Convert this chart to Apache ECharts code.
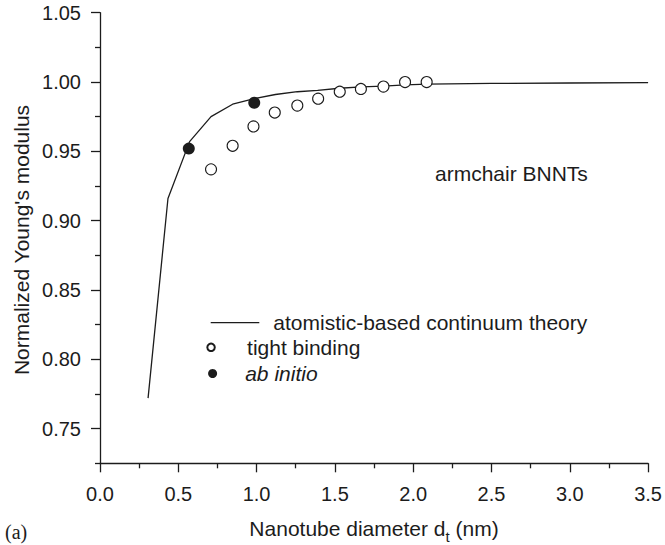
<!DOCTYPE html>
<html>
<head>
<meta charset="utf-8">
<script src="https://cdn.jsdelivr.net/npm/echarts@6/dist/echarts.min.js"></script>
<style>html,body{margin:0;padding:0;background:#fff}#c{width:665px;height:545px}</style>
</head>
<body>
<div id="c"></div>
<script>
// continuum theory curve
var theoryX = [0.307, 0.434, 0.572, 0.709, 0.847, 0.985, 1.12, 1.26, 1.39, 1.53, 1.67, 1.81, 1.95, 2.09, 2.5, 3.0, 3.5];
var theoryY = [0.772, 0.916, 0.957, 0.975, 0.984, 0.988, 0.991, 0.993, 0.994, 0.9955, 0.9965, 0.997, 0.998, 0.9985, 0.999, 0.9993, 0.9995];
// tight binding
var tbX = [0.709, 0.847, 0.980, 1.116, 1.260, 1.393, 1.531, 1.666, 1.810, 1.948, 2.086];
var tbY = [0.937, 0.954, 0.968, 0.978, 0.983, 0.988, 0.993, 0.995, 0.9967, 1.000, 1.000];
// ab initio
var abX = [0.567, 0.985];
var abY = [0.952, 0.985];
// ticks
var yMajorTicks = [0.75, 0.80, 0.85, 0.90, 0.95, 1.00, 1.05];
var yMinorTicks = [0.725, 0.775, 0.825, 0.875, 0.925, 0.975, 1.025];
var seriesNames = ['atomistic-based continuum theory', 'tight binding', 'ab initio'];

function pairs(xs, ys) { return xs.map(function (x, i) { return [x, ys[i]]; }); }

var INK = '#1c1c1c';
var FONT = '"Liberation Sans", Arial, sans-serif';

var chart = echarts.init(document.getElementById('c'), null, { renderer: 'svg' });
chart.setOption({
  animation: false,
  backgroundColor: '#fff',
  grid: { left: 100, right: 14, top: 12.7, bottom: 81.7 },
  xAxis: {
    type: 'value', min: 0, max: 3.5, interval: 0.5,
    axisLine: { show: true, lineStyle: { color: INK, width: 1.3 } },
    axisTick: { show: true, length: 9, lineStyle: { color: INK, width: 1.3 } },
    minorTick: { show: true, splitNumber: 2, length: 5, lineStyle: { color: INK, width: 1.3 } },
    splitLine: { show: false },
    axisLabel: { margin: 21, fontSize: 20, color: INK, fontFamily: FONT, formatter: function (v) { return v.toFixed(1); } }
  },
  yAxis: [{
    type: 'value', min: 0.725, max: 1.05, interval: 0.025,
    axisLine: { show: true, lineStyle: { color: INK, width: 1.3 } },
    axisTick: { show: true, length: 9, customValues: yMajorTicks, lineStyle: { color: INK, width: 1.3 } },
    splitLine: { show: false },
    axisLabel: { margin: 19, fontSize: 20, color: INK, fontFamily: FONT, customValues: yMajorTicks, formatter: function (v) { return v.toFixed(2); } }
  }, {
    type: 'value', min: 0.725, max: 1.05, interval: 0.025, position: 'left',
    axisLine: { show: false },
    axisTick: { show: true, length: 5, customValues: yMinorTicks, lineStyle: { color: INK, width: 1.3 } },
    splitLine: { show: false },
    axisLabel: { show: false }
  }],
  legend: [{
    data: [{ name: seriesNames[0], icon: 'rect' }],
    left: 210.7, top: 311.7, padding: 0, selectedMode: false,
    itemWidth: 48.6, itemHeight: 1.3, itemStyle: { borderWidth: 0 },
    textStyle: { fontSize: 21, color: INK, fontFamily: FONT, lineHeight: 22, padding: [0, 0, 0, 9] }
  }, {
    data: [{ name: seriesNames[1], icon: 'circle' }],
    left: 206.3, top: 336.3, padding: 0, selectedMode: false,
    itemWidth: 62, itemHeight: 7.5,
    textStyle: { fontSize: 21, color: INK, fontFamily: FONT, lineHeight: 22 }
  }, {
    data: [{ name: seriesNames[2], icon: 'circle' }],
    left: 208.1, top: 362.5, padding: 0, selectedMode: false,
    itemWidth: 55.2, itemHeight: 9,
    textStyle: { fontSize: 21, color: INK, fontFamily: FONT, fontStyle: 'italic', lineHeight: 22 }
  }],
  series: [{
    name: seriesNames[0], type: 'line', data: pairs(theoryX, theoryY),
    symbol: 'none', lineStyle: { color: INK, width: 1.3 }, itemStyle: { color: INK }, z: 2
  }, {
    name: seriesNames[1], type: 'scatter', data: pairs(tbX, tbY), symbol: 'circle', symbolSize: 11,
    itemStyle: { color: '#fff', borderColor: INK, borderWidth: 1.1, opacity: 1 }, z: 3
  }, {
    name: seriesNames[2], type: 'scatter', data: pairs(abX, abY), symbol: 'circle', symbolSize: 12,
    itemStyle: { color: INK, opacity: 1 }, z: 4
  }],
  graphic: [{
    type: 'text', x: 21, y: 240, rotation: Math.PI / 2,
    style: { text: "Normalized Young's modulus", fontSize: 21, fontFamily: FONT, fill: INK, align: 'center', verticalAlign: 'middle' }
  }, {
    type: 'text', x: 374, y: 528,
    style: {
      text: '{n|Nanotube diameter d}{s|t}{n| (nm)}', align: 'center', verticalAlign: 'middle', fill: INK,
      rich: {
        n: { fontSize: 21, fontFamily: FONT, fill: INK, lineHeight: 32 },
        s: { fontSize: 15, fontFamily: FONT, fill: INK, lineHeight: 14, verticalAlign: 'bottom' }
      }
    }
  }, {
    type: 'text', x: 435, y: 173,
    style: { text: 'armchair BNNTs', fontSize: 21, fontFamily: FONT, fill: INK, align: 'left', verticalAlign: 'middle' }
  }, {
    type: 'text', x: 5, y: 532,
    style: { text: '(a)', fontSize: 20, fontFamily: '"Liberation Serif", "Times New Roman", serif', fill: INK, align: 'left', verticalAlign: 'middle' }
  }]
});
</script>
</body>
</html>
